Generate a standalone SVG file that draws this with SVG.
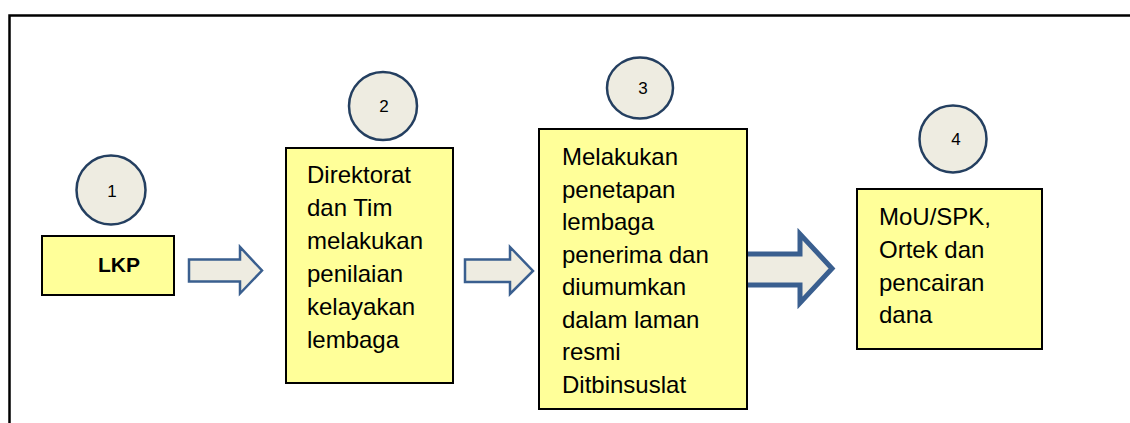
<svg xmlns="http://www.w3.org/2000/svg" width="1130" height="423" viewBox="0 0 1130 423">
<style>
.box{fill:#FFFF99;stroke:#000;stroke-width:2}
.num{fill:#EEECE1;stroke:#243F60;stroke-width:2.5}
.arrow{fill:#EEECE1;stroke:#3A5F8F;stroke-width:2.5;stroke-linejoin:miter}
.t{font-family:"Liberation Sans",Arial,sans-serif;font-size:24px;fill:#000}
.n{font-family:"Liberation Sans",Arial,sans-serif;font-size:17px;fill:#000;text-anchor:middle}
</style>
<rect x="9.5" y="15.5" width="1140" height="430" fill="none" stroke="#000" stroke-width="2.5"/>
<g id="connectors">
<path class="arrow" d="M189,259.5 H240 V247 L262,270.5 L240,293.5 V281.5 H189 Z"/>
<path class="arrow" d="M465,259.5 H510 V247 L533,271 L510,294 V282 H465 Z"/>
<path class="arrow" style="stroke-width:5" d="M745,254 H800 V234 L832,268.5 L800,303 V285 H745 Z"/>
</g>
<g id="n1">
<circle class="num" cx="111" cy="190" r="34.5"/>
<text class="n" x="112" y="197">1</text>
<rect class="box" x="42" y="236" width="132" height="59"/>
<text class="t" x="98" y="272" style="font-weight:bold;font-size:21px">LKP</text>
</g>
<g id="n2">
<circle class="num" cx="383" cy="106" r="34"/>
<text class="n" x="384" y="112">2</text>
<rect class="box" x="286" y="148" width="167" height="235"/>
<text class="t" x="307" y="183">Direktorat</text>
<text class="t" x="307" y="216">dan Tim</text>
<text class="t" x="307" y="249">melakukan</text>
<text class="t" x="307" y="282">penilaian</text>
<text class="t" x="307" y="315">kelayakan</text>
<text class="t" x="307" y="348">lembaga</text>
</g>
<g id="n3">
<ellipse class="num" cx="640" cy="88" rx="33" ry="30.5"/>
<text class="n" x="643" y="94">3</text>
<rect class="box" x="539" y="129" width="208" height="280"/>
<text class="t" x="562" y="165">Melakukan</text>
<text class="t" x="562" y="197.5">penetapan</text>
<text class="t" x="562" y="230">lembaga</text>
<text class="t" x="562" y="262.5">penerima dan</text>
<text class="t" x="562" y="295">diumumkan</text>
<text class="t" x="562" y="327.5">dalam laman</text>
<text class="t" x="562" y="360">resmi</text>
<text class="t" x="562" y="392.5">Ditbinsuslat</text>
</g>
<g id="n4">
<circle class="num" cx="953" cy="139" r="33.5"/>
<text class="n" x="956" y="145">4</text>
<rect class="box" x="857" y="189" width="185" height="160"/>
<text class="t" x="879" y="225">MoU/SPK,</text>
<text class="t" x="879" y="258">Ortek dan</text>
<text class="t" x="879" y="291">pencairan</text>
<text class="t" x="879" y="323">dana</text>
</g>
</svg>
